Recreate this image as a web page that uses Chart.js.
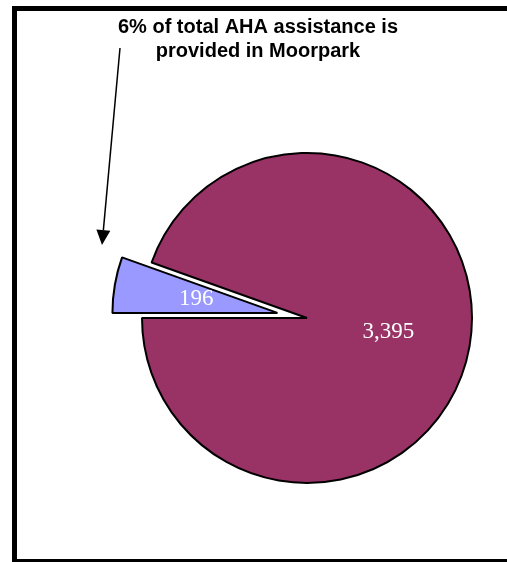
<!DOCTYPE html>
<html>
<head>
<meta charset="utf-8">
<script src="https://cdn.jsdelivr.net/npm/chart.js@4/dist/chart.umd.min.js"></script>
<style>
  html, body { margin: 0; padding: 0; background: #fff; }
  #wrap { position: relative; width: 507px; height: 562px; }
</style>
</head>
<body>
<div id="wrap"><canvas id="c" width="507" height="562"></canvas></div>
<script>
// Data
const categories = ["Moorpark", "Rest of AHA"];
const values = [196, 3395];
const valueLabels = ["196", "3,395"];
const sliceColors = ["#9999FF", "#993366"];
const sliceExplode = [30, 0];
const titleLines = ["6% of total AHA assistance is", "provided in Moorpark"];

// Explode slices by moving the arc element's centre along its mid-angle
const explodePlugin = {
  id: 'explode',
  afterDatasetUpdate(chart, args) {
    const meta = chart.getDatasetMeta(args.index);
    meta.data.forEach((arc, i) => {
      const d = sliceExplode[i] || 0;
      if (!d) return;
      const mid = (arc.startAngle + arc.endAngle) / 2;
      arc.x += Math.cos(mid) * d;
      arc.y += Math.sin(mid) * d;
    });
  }
};

const framePlugin = {
  id: 'frame',
  beforeDraw(chart) {
    const ctx = chart.ctx;
    ctx.save();
    ctx.fillStyle = '#fff';
    ctx.fillRect(0, 0, chart.width, chart.height);
    ctx.restore();
  },
  afterDraw(chart) {
    const ctx = chart.ctx;
    ctx.save();
    // outer frame
    ctx.strokeStyle = '#000';
    ctx.lineWidth = 5;
    ctx.strokeRect(14.5, 8.5, 600, 553);
    // annotation text
    ctx.fillStyle = '#000';
    ctx.font = 'bold 20px "Liberation Sans", Arial, sans-serif';
    ctx.textAlign = 'center';
    ctx.textBaseline = 'alphabetic';
    ctx.fillText(titleLines[0], 258, 33);
    ctx.fillText(titleLines[1], 258, 57);
    // arrow
    const x1 = 120, y1 = 48, x2 = 102, y2 = 245;
    const dx = x2 - x1, dy = y2 - y1, len = Math.hypot(dx, dy);
    const ux = dx / len, uy = dy / len;
    const headL = 15, headW = 7;
    const bx = x2 - ux * headL, by = y2 - uy * headL;
    ctx.lineWidth = 1.5;
    ctx.beginPath();
    ctx.moveTo(x1, y1);
    ctx.lineTo(bx, by);
    ctx.stroke();
    ctx.beginPath();
    ctx.moveTo(x2, y2);
    ctx.lineTo(bx - uy * headW, by + ux * headW);
    ctx.lineTo(bx + uy * headW, by - ux * headW);
    ctx.closePath();
    ctx.fill();
    // value labels
    const meta = chart.getDatasetMeta(0);
    ctx.fillStyle = '#fff';
    ctx.font = '23px "Liberation Serif", "Times New Roman", serif';
    ctx.textAlign = 'center';
    ctx.textBaseline = 'middle';
    meta.data.forEach((arc, i) => {
      const mid = (arc.startAngle + arc.endAngle) / 2;
      const r = arc.outerRadius / 2;
      ctx.fillText(valueLabels[i], arc.x + Math.cos(mid) * r, arc.y + Math.sin(mid) * r);
    });
    ctx.restore();
  }
};

new Chart(document.getElementById('c'), {
  type: 'pie',
  data: {
    labels: categories,
    datasets: [{
      data: values,
      backgroundColor: sliceColors,
      borderColor: '#000',
      borderWidth: 2,
      radius: 165
    }]
  },
  options: {
    responsive: false,
    animation: false,
    events: [],
    rotation: 270,
    layout: { padding: { left: 107, top: 74, right: 0, bottom: 0 } },
    plugins: {
      legend: { display: false },
      title: { display: false },
      tooltip: { enabled: false }
    }
  },
  plugins: [explodePlugin, framePlugin]
});
</script>
</body>
</html>
